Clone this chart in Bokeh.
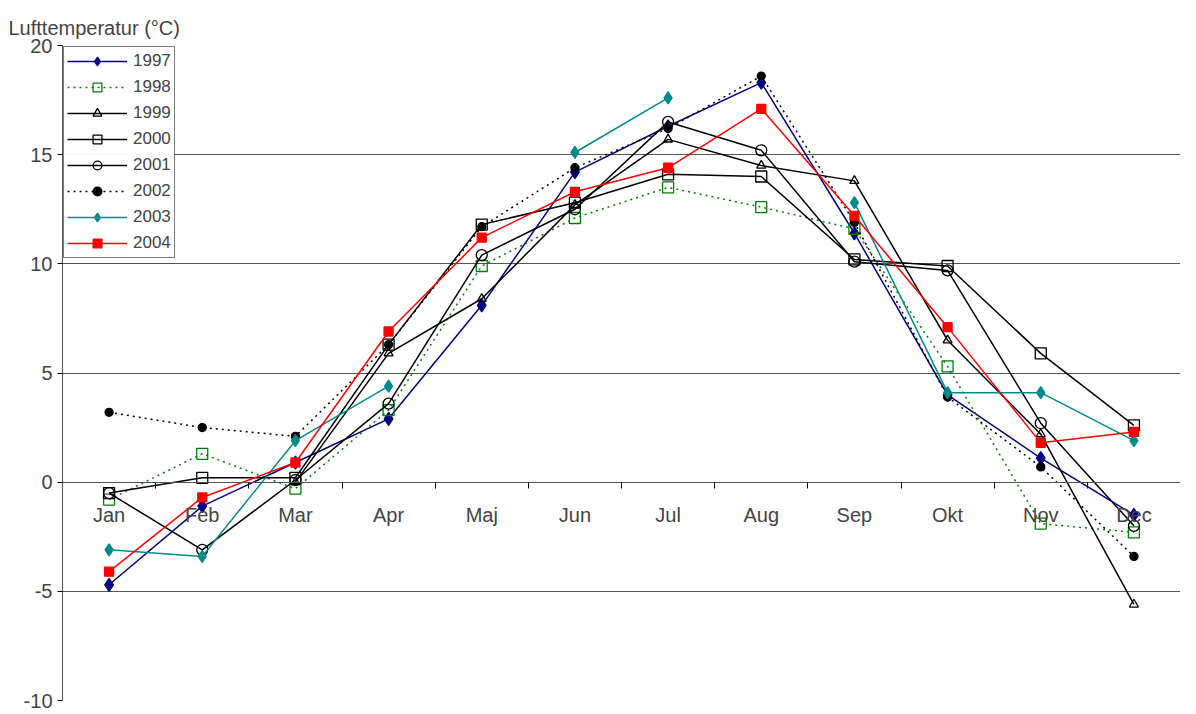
from bokeh.plotting import figure
from bokeh.models import FixedTicker, Legend, LegendItem, Title
from bokeh.embed import file_html
from bokeh.resources import INLINE

nan = float("nan")
months = ["Jan", "Feb", "Mar", "Apr", "Maj", "Jun", "Jul", "Aug", "Sep", "Okt", "Nov", "Dec"]
yticks = [-10, -5, 0, 5, 10, 15, 20]

t1997 = [-4.7, -1.1, 0.9, 2.9, 8.1, 14.2, 16.3, 18.3, 11.4, 4.0, 1.1, -1.5]
t1998 = [-0.8, 1.3, -0.3, 3.3, 9.9, 12.1, 13.5, 12.6, 11.6, 5.3, -1.9, -2.3]
t1999 = [nan, nan, 0.0, 5.9, 8.4, 12.7, 15.7, 14.5, 13.8, 6.5, 2.2, -5.6]
t2000 = [-0.5, 0.2, 0.2, 6.3, 11.8, 12.8, 14.1, 14.0, 10.2, 9.9, 5.9, 2.6]
t2001 = [-0.5, -3.1, 0.1, 3.6, 10.4, 12.5, 16.5, 15.2, 10.1, 9.7, 2.7, -2.0]
t2002 = [3.2, 2.5, 2.1, 6.3, 11.7, 14.4, 16.2, 18.6, 11.9, 3.9, 0.7, -3.4]
t2003 = [-3.1, -3.4, 1.9, 4.4, nan, 15.1, 17.6, nan, 12.8, 4.1, 4.1, 1.9]
t2004 = [-4.1, -0.7, 0.9, 6.9, 11.2, 13.3, 14.4, 17.1, 12.2, 7.1, 1.8, 2.3]

x = list(range(1, 13))
font = "Liberation Sans"

p = figure(width=1180, height=712, x_range=(0.5, 12.5), y_range=(-10, 20),
           output_backend="svg", toolbar_location=None,
           min_border_left=62, min_border_top=45, min_border_right=0, min_border_bottom=12)
p.add_layout(Title(text="Lufttemperatur (°C)", align="left", text_font=font,
                   text_font_size="20px", text_font_style="normal", offset=-54,
                   standoff=14), "above")
p.outline_line_color = None
p.xgrid.grid_line_color = None
p.ygrid.grid_line_color = "#555555"
p.ygrid.grid_line_width = 1.2
p.yaxis.ticker = FixedTicker(ticks=yticks)
p.yaxis.major_label_overrides = {t: str(t) for t in yticks}
p.yaxis.major_label_text_font = font
p.yaxis.major_label_text_font_size = "20px"
p.yaxis.minor_tick_line_color = None
p.yaxis.major_tick_in = 0
p.yaxis.major_tick_out = 5
p.yaxis.axis_line_color = "#555555"
p.xaxis.fixed_location = 0
p.xaxis.ticker = FixedTicker(ticks=x, minor_ticks=[i + 0.5 for i in range(1, 12)])
p.xaxis.major_label_overrides = {i + 1: m for i, m in enumerate(months)}
p.xaxis.major_label_text_font = font
p.xaxis.major_label_text_font_size = "20px"
p.xaxis.major_label_standoff = 16
p.xaxis.major_tick_line_color = None
p.xaxis.minor_tick_in = 0
p.xaxis.minor_tick_out = 6
p.xaxis.axis_line_color = "#555555"

series = [
    ("1997", t1997, "navy", "solid", "diamond", 13, True),
    ("1998", t1998, "green", "dotted", "square", 11, False),
    ("1999", t1999, "black", "solid", "triangle", 9, False),
    ("2000", t2000, "black", "solid", "square", 11, False),
    ("2001", t2001, "black", "solid", "circle", 11, False),
    ("2002", t2002, "black", "dotted", "circle", 8, True),
    ("2003", t2003, "#008B8B", "solid", "diamond", 12, True),
    ("2004", t2004, "red", "solid", "square", 9, True),
]

items = []
for name, vals, col, dash, marker, size, filled in series:
    r1 = p.line(x, vals, line_color=col, line_width=1.5, line_dash=dash)
    r2 = p.scatter(x, vals, marker=marker, size=size, line_color=col,
                   fill_color=col if filled else "white",
                   fill_alpha=1.0 if filled else 0.0, line_width=1.3)
    items.append(LegendItem(label=name, renderers=[r1, r2]))

legend = Legend(items=items, location="top_left", label_text_font=font,
                label_text_font_size="17px", border_line_color="black",
                spacing=4, padding=3, margin=1, glyph_height=22, label_height=22,
                label_standoff=6, glyph_width=60)
p.add_layout(legend, "center")

open("out.html", "w").write(file_html(p, INLINE))
